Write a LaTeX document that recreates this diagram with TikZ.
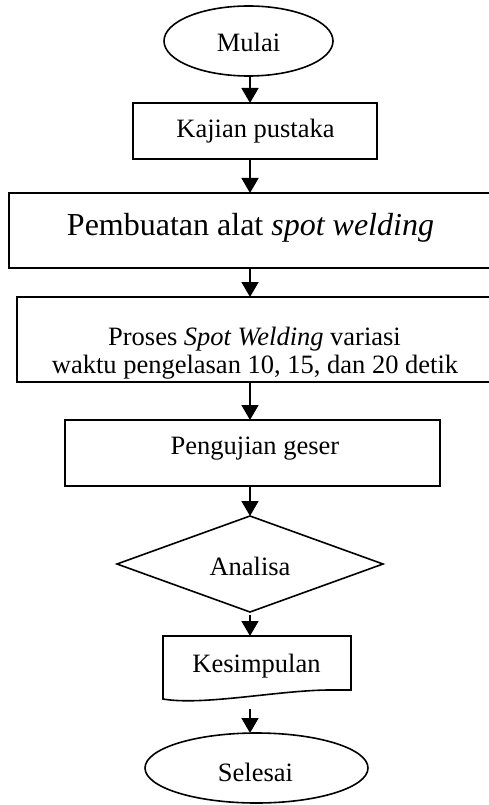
\documentclass[tikz,border=0pt]{standalone}
\usepackage{fontspec}
\setmainfont{Liberation Serif}
\usetikzlibrary{shapes.geometric,arrows.meta}
\begin{document}
\begin{tikzpicture}[x=1pt,y=-1pt,
 box/.style={draw, line width=1.6pt, rectangle, inner sep=0pt, outer sep=0pt},
 term/.style={draw, line width=1.6pt, ellipse, inner sep=0pt, outer sep=0pt},
 dec/.style={draw, line width=1.6pt, diamond, inner sep=0pt, outer sep=0pt},
 txt/.style={anchor=base, inner sep=0pt, font=\fontsize{26.5}{28}\selectfont},
 bigtxt/.style={anchor=base, inner sep=0pt, font=\fontsize{32}{34}\selectfont},
 arr/.style={line width=1.5pt, -{Triangle[length=15pt,width=17pt]}},
]
\clip (0,0) rectangle (489,805);
\coordinate (ax) at (250,0);
% shapes
\node[term, minimum width=169pt, minimum height=70pt] (mulai) at (248.5,41) {};
\node[box, minimum width=244pt, minimum height=56pt] (kajian) at (255,131) {};
\node[box, minimum width=483pt, minimum height=75pt] (pembuatan) at (250.5,230.5) {};
\node[box, minimum width=475pt, minimum height=85pt] (proses) at (254.5,339.5) {};
\node[box, minimum width=375pt, minimum height=66pt] (pengujian) at (252.5,453) {};
\node[dec, minimum width=266pt, minimum height=96pt] (analisa) at (250,564) {};
\node[rectangle, draw=none, inner sep=0pt, outer sep=0pt, minimum width=188pt, minimum height=63pt] (kesimpulan) at (257,667.5) {};
\draw[line width=1.6pt] (kesimpulan.south west) -- (kesimpulan.north west) -- (kesimpulan.north east) -- ++(0,54) -- ++(-21,0) .. controls +(-50,0) and +(40,7) .. (kesimpulan.south west) -- cycle;
\node[term, minimum width=223pt, minimum height=70pt] (selesai) at (256.5,768) {};
% texts
\node[txt] (tmulai) at (248.5,52) {Mulai};
\node[txt] (tkajian) at (255.5,138) {Kajian pustaka};
\node[bigtxt] (tpembuatan) at (250.5,235) {Pembuatan alat \textit{spot welding}};
\node[txt] (tproses1) at (254.5,345) {Proses \textit{Spot Welding} variasi};
\node[txt] (tproses2) at (255,373) {waktu pengelasan 10, 15, dan 20 detik};
\node[txt] (tpengujian) at (255,454) {Pengujian geser};
\node[txt] (tanalisa) at (250,575) {Analisa};
\node[txt] (tkesimpulan) at (256.5,672) {Kesimpulan};
\node[txt] (tselesai) at (255.5,781) {Selesai};
% connectors
\draw[arr] (mulai.south -| ax) -- (kajian.north -| ax);
\draw[arr] (kajian.south -| ax) -- (pembuatan.north -| ax);
\draw[arr] (pembuatan.south -| ax) -- (proses.north -| ax);
\draw[arr] (proses.south -| ax) -- (pengujian.north -| ax);
\draw[arr] (pengujian.south -| ax) -- (analisa.north -| ax);
\draw[arr, shorten <=3pt] (analisa.south -| ax) -- (kesimpulan.north -| ax);
\draw[arr, shorten <=10pt] (kesimpulan.south -| ax) -- (selesai.north -| ax);
\end{tikzpicture}
\end{document}
